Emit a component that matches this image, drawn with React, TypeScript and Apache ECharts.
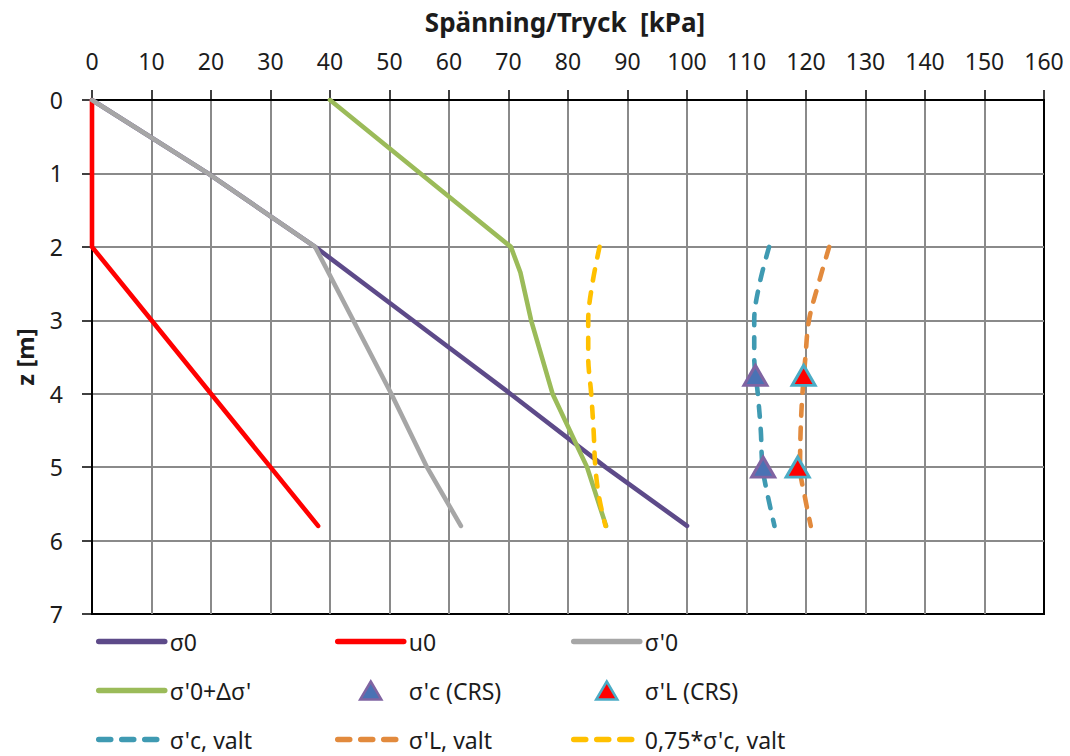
import React, { useEffect, useRef } from "react";
import * as echarts from "echarts";

// ---- data ----
const zMain = [0, 1, 2, 3, 4, 5, 5.8];
const sigma0 = [0, 19.5, 37.5, 53.9, 70.3, 86.3, 100];
const u0 = [0, 0, 0, 10, 20, 30, 38];
const sigmaEff0 = [0, 19.5, 37.5, 43.9, 50.3, 56.3, 62];

const zLoad = [0, 1, 2, 2.35, 3, 4, 5, 5.8];
const sigmaLoad = [40, 55.2, 70.4, 72, 73.8, 77.4, 83.2, 86.4];

const zValt = [2, 2.5, 3, 3.5, 4, 4.5, 5, 5.4, 5.8];
const sigmaCValt = [113.8, 112.2, 111.3, 111.3, 111.9, 112.4, 112.7, 113.6, 114.7];
const sigmaLValt = [123.9, 122.1, 120.5, 119.9, 119.4, 119.1, 119.0, 119.8, 120.8];
const sigmaC75Valt = [85.3, 84.1, 83.4, 83.4, 83.9, 84.3, 84.6, 85.2, 86.3];

const zCRS = [3.75, 5.0];
const sigmaCCRS = [111.5, 112.8];
const sigmaLCRS = [119.6, 118.6];

const xTitle = "Spänning/Tryck  [kPa]";
const yTitle = "z [m]";

const FONT = '"Noto Sans", "DejaVu Sans", sans-serif';
const TEXT = "#1c1c1c";

const pairs = (xs: number[], zs: number[]) => xs.map((x, i) => [x, zs[i]]);

const lineSeries = (name: string, xs: number[], zs: number[], color: string, dashed = false, smooth = false) => ({
  name,
  type: "line",
  data: pairs(xs, zs),
  symbol: "none",
  smooth: smooth ? 0.35 : false,
  itemStyle: { color },
  lineStyle: {
    color,
    width: 4.6,
    cap: "round",
    join: "round",
    type: dashed ? [11, 12] : "solid",
  },
  z: 3,
});

const triSeries = (name: string, xs: number[], fill: string, border: string) => ({
  name,
  type: "scatter",
  data: pairs(xs, zCRS),
  symbol: "triangle",
  symbolSize: [23, 20],
  itemStyle: { color: fill, borderColor: border, borderWidth: 3, opacity: 1 },
  z: 5,
});

const lineItem = (name: string, dashed = false) => ({
  name,
  itemStyle: { opacity: 0 },
  lineStyle: dashed ? { type: [12, 11] } : {},
});
const triItem = (name: string) => ({
  name,
  icon: "path://M10,0L20,17L0,17Z",
  itemStyle: { borderWidth: 2.5 },
});

const legendCommon = {
  orient: "vertical",
  itemWidth: 66,
  itemHeight: 18,
  itemGap: 26,
  padding: 0,
  top: 630,
  height: 160,
  width: 230,
  selectedMode: false,
  symbolKeepAspect: true,
  textStyle: { fontFamily: FONT, fontSize: 23, color: TEXT, lineHeight: 20 },
  lineStyle: { width: 5.5 },
};

export default function App() {
  const ref = useRef<HTMLDivElement>(null);

  useEffect(() => {
    if (!ref.current) return;
    const chart = echarts.init(ref.current, undefined, { renderer: "svg" });
    const option = {
      animation: false,
      backgroundColor: "#ffffff",
      graphic: [
        {
          type: "text",
          x: 565,
          y: 22,
          style: {
            text: xTitle,
            fontFamily: FONT,
            fontSize: 26,
            fontWeight: "bold",
            fill: TEXT,
            align: "center",
            verticalAlign: "middle",
          },
        },
      ],
      grid: {
        left: 92,
        top: 100,
        width: 952,
        height: 514,
        show: true,
        borderColor: "#000",
        borderWidth: 2,
        backgroundColor: "transparent",
      },
      xAxis: {
        type: "value",
        position: "top",
        min: 0,
        max: 160,
        interval: 10,
        axisLine: { show: true, lineStyle: { color: "#000", width: 2 } },
        axisTick: { show: true, inside: false, length: 10, lineStyle: { color: "#000", width: 1.5 } },
        axisLabel: { margin: 28, fontFamily: FONT, fontSize: 23, color: TEXT },
        splitLine: {
          show: true,
          showMinLine: false,
          showMaxLine: false,
          lineStyle: { color: "#8a8a8a", width: 2 },
        },
      },
      yAxis: {
        type: "value",
        inverse: true,
        min: 0,
        max: 7,
        interval: 1,
        name: yTitle,
        nameLocation: "middle",
        nameGap: 56,
        nameRotate: 90,
        nameTextStyle: { fontFamily: FONT, fontSize: 24, fontWeight: "bold", color: TEXT },
        axisLine: { show: true, onZero: false, lineStyle: { color: "#000", width: 2 } },
        axisTick: { show: true, inside: false, length: 10, lineStyle: { color: "#000", width: 1.5 } },
        axisLabel: { margin: 29, fontFamily: FONT, fontSize: 23, color: TEXT },
        splitLine: {
          show: true,
          showMinLine: false,
          showMaxLine: false,
          lineStyle: { color: "#8a8a8a", width: 2 },
        },
      },
      legend: [
        { ...legendCommon, left: 96, data: [lineItem("σ0"), lineItem("σ'0+Δσ'"), lineItem("σ'c, valt", true)] },
        { ...legendCommon, left: 335, data: [lineItem("u0"), triItem("σ'c (CRS)"), lineItem("σ'L, valt", true)] },
        { ...legendCommon, left: 571, data: [lineItem("σ'0"), triItem("σ'L (CRS)"), lineItem("0,75*σ'c, valt", true)] },
      ],
      series: [
        lineSeries("σ0", sigma0, zMain, "#5D4A89"),
        lineSeries("u0", u0, zMain, "#FF0000"),
        lineSeries("σ'0", sigmaEff0, zMain, "#A6A6A6"),
        lineSeries("σ'0+Δσ'", sigmaLoad, zLoad, "#9BBB59"),
        lineSeries("σ'c, valt", sigmaCValt, zValt, "#3F9AB2", true, true),
        lineSeries("σ'L, valt", sigmaLValt, zValt, "#E28A3D", true, true),
        lineSeries("0,75*σ'c, valt", sigmaC75Valt, zValt, "#FFC000", true, true),
        triSeries("σ'c (CRS)", sigmaCCRS, "#4A72B4", "#8064A2"),
        triSeries("σ'L (CRS)", sigmaLCRS, "#FF0000", "#4BACC6"),
      ],
    };
    chart.setOption(option as any);
    return () => chart.dispose();
  }, []);

  return (
    <div
      ref={ref}
      style={{ position: "fixed", left: 0, top: 0, width: 1070, height: 756, background: "#fff" }}
    />
  );
}
